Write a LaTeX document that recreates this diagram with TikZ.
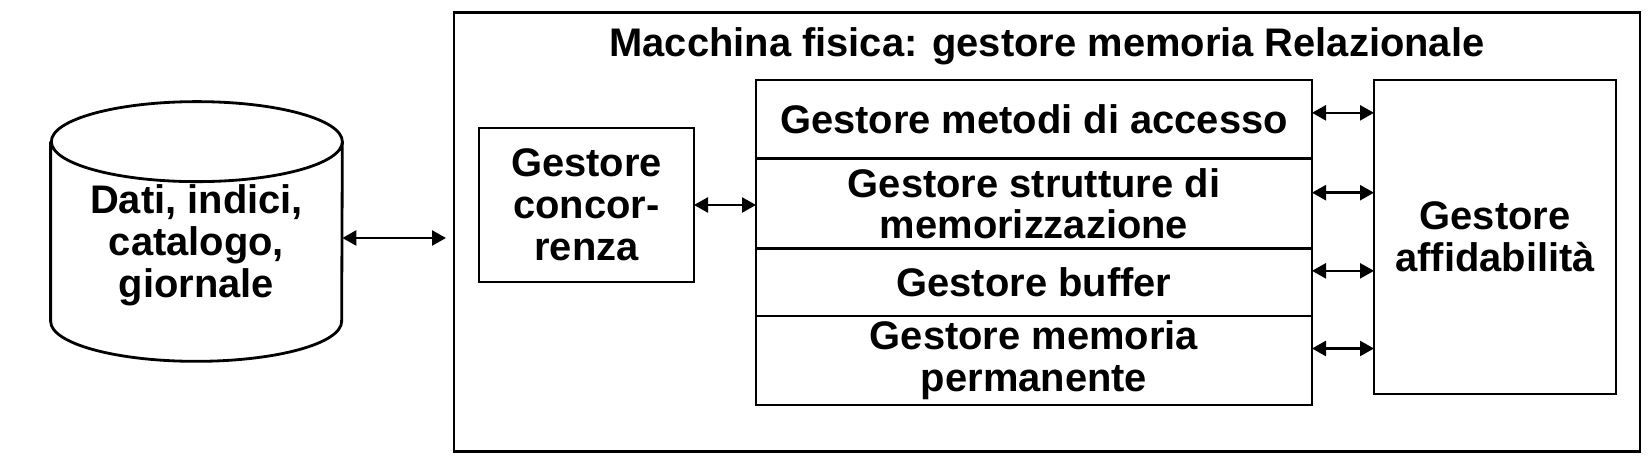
\documentclass[tikz,border=0pt]{standalone}
\usepackage{fontspec}
\setmainfont{Liberation Sans}
\usetikzlibrary{arrows.meta, positioning}

\begin{document}
\begin{tikzpicture}[
    node distance=0pt,
    every node/.style={font=\bfseries\fontsize{22.7pt}{23.8pt}\selectfont},
    box/.style={draw, line width=1.6pt, align=center, inner sep=0pt, outer sep=0pt},
    layer/.style={box, minimum width=11.12cm},
    storage/.style={align=center, inner sep=0pt, minimum width=5.82cm, minimum height=3.58cm},
    arrow/.style={draw, line width=1.4pt, {Triangle[length=0.28cm, width=0.3cm]}-{Triangle[length=0.28cm, width=0.3cm]}}
]
    \useasboundingbox (0,0) rectangle (33.04,9.48);

    \node[storage] (db) at (3.93,4.58) {Dati, indici,\\catalogo,\\giornale};
    \draw[line width=1.6pt] ([yshift=0.27cm]db.north west) -- ([yshift=0.27cm]db.south west)
        arc[start angle=180, end angle=360, x radius=2.91cm, y radius=0.8cm] -- ([yshift=0.27cm]db.north east)
        arc[start angle=0, end angle=360, x radius=2.91cm, y radius=0.8cm];
    \node[box, minimum width=23.72cm, minimum height=8.77cm] (machine) at (20.94,4.84) {};
    \node[anchor=base] (title) at ([yshift=-0.88cm]machine.north) {Macchina fisica: gestore memoria Relazionale};
    \node[box, minimum width=4.3cm, minimum height=3.08cm] (concorrenza) at (11.73,5.38) {Gestore\\concor-\\renza};

    \node[layer, minimum height=1.574cm] (metodi) at (20.68,7.093) {Gestore metodi di accesso};
    \node[layer, minimum height=1.8cm, below=of metodi] (strutture) {Gestore strutture di\\memorizzazione};
    \node[layer, minimum height=1.346cm, below=of strutture] (buffer) {Gestore buffer};
    \node[layer, minimum height=1.78cm, below=of buffer] (permanente) {Gestore memoria\\permanente};
    \node[box, minimum width=4.84cm, minimum height=6.28cm] (affidabilita) at (29.9,4.74) {Gestore\\affidabilità};

    \draw[arrow, shorten >=0.16cm] ([yshift=0.14cm]db.east) -- ([yshift=0.14cm]db.east -| machine.west);
    \draw[arrow] (concorrenza.east) -- (concorrenza.east -| strutture.west);
    \foreach \layer/\shift in {metodi/0.13, strutture/0.22, buffer/0.23, permanente/0.24}
        \draw[arrow] ([yshift=\shift cm]\layer.east) -- ([yshift=\shift cm]\layer.east -| affidabilita.west);

\end{tikzpicture}
\end{document}
